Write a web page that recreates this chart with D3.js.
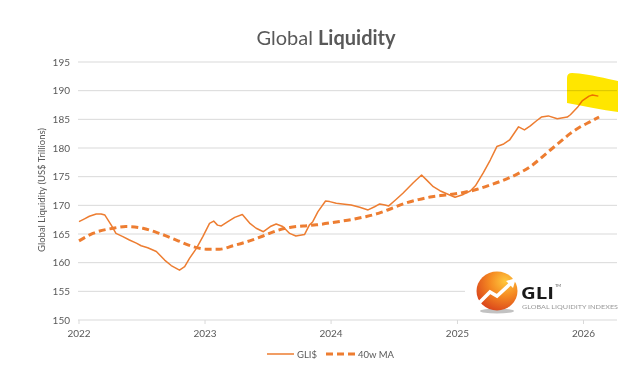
<!DOCTYPE html>
<html lang="en">
<head>
<meta charset="UTF-8">
<title>Global Liquidity</title>
<script src="https://d3js.org/d3.v7.min.js"></script>
<style>
  body { margin: 0; background: #fff; }
  svg { display: block; font-family: 'Lato', 'Open Sans', sans-serif; }
  .tickLabel { font-size: 10px; fill: #595959; }
  .legendLabel { font-size: 9.5px; fill: #595959; }
</style>
</head>
<body>
<svg width="638" height="387"></svg>
<script>
// GLI$ (US$ trillions)
const gliDates = ["2022-01-01","2022-01-17","2022-01-31","2022-02-20","2022-03-06","2022-03-17","2022-04-04","2022-04-18",
  "2022-05-08","2022-05-27","2022-06-16","2022-06-30","2022-07-19","2022-08-13","2022-09-06","2022-09-25","2022-10-19",
  "2022-11-03","2022-11-17","2022-12-07","2022-12-26","2023-01-14","2023-01-26","2023-02-06","2023-02-17","2023-03-08",
  "2023-03-28","2023-04-19","2023-05-10","2023-05-29","2023-06-19","2023-07-09","2023-07-26","2023-08-14","2023-09-03",
  "2023-09-21","2023-10-16","2023-10-30","2023-11-09","2023-11-24","2023-12-16","2023-12-28","2024-01-16","2024-02-09",
  "2024-02-28","2024-03-24","2024-04-17","2024-05-06","2024-05-21","2024-06-05","2024-06-16","2024-07-03","2024-07-27",
  "2024-08-26","2024-09-19","2024-10-04","2024-10-23","2024-11-11","2024-12-06","2024-12-25","2025-01-18","2025-02-07",
  "2025-02-22","2025-03-17","2025-04-06","2025-04-25","2025-05-15","2025-06-01","2025-06-27","2025-07-14","2025-07-31",
  "2025-08-18","2025-09-01","2025-09-21","2025-10-17","2025-11-15","2025-11-24","2025-12-14","2025-12-28","2026-01-17",
  "2026-01-27","2026-02-13"];
const gliValues = [167.15,167.65,168.1,168.5,168.5,168.3,166.6,165.1,
  164.55,163.95,163.4,162.95,162.6,161.95,160.45,159.5,158.7,
  159.3,160.75,162.5,164.6,166.85,167.25,166.55,166.4,167.15,
  167.9,168.4,166.9,166.0,165.4,166.3,166.75,166.3,165.1,
  164.65,164.9,166.55,167.15,168.9,170.75,170.65,170.35,170.2,
  170.05,169.65,169.2,169.75,170.25,170.05,169.9,170.8,172.1,
  173.95,175.3,174.4,173.25,172.55,171.9,171.4,171.9,172.5,
  173.4,175.7,177.9,180.25,180.7,181.4,183.7,183.15,183.85,
  184.75,185.4,185.6,185.1,185.4,185.8,187.05,188.2,189.05,
  189.25,189.05];

// 40-week moving average
const maDates = ["2022-01-01","2022-02-10","2022-04-09","2022-05-17","2022-07-05","2022-08-22","2022-10-10","2022-11-27",
  "2023-01-05","2023-02-12","2023-03-23","2023-05-10","2023-06-18","2023-07-26","2023-09-03","2023-10-12","2023-11-20",
  "2024-01-21","2024-02-28","2024-04-08","2024-05-17","2024-06-24","2024-08-02","2024-09-10","2024-10-19","2024-11-27",
  "2025-01-04","2025-02-27","2025-04-06","2025-05-15","2025-06-23","2025-07-31","2025-08-29","2025-09-27","2025-10-26",
  "2025-11-24","2025-12-23","2026-01-21","2026-02-15"];
const maValues = [163.8,165.1,166.0,166.3,166.0,165.1,163.95,162.8,
  162.35,162.35,162.95,163.8,164.65,165.55,166.15,166.4,166.6,
  167.15,167.5,168.0,168.6,169.45,170.35,171.0,171.5,171.8,
  172.1,172.8,173.55,174.4,175.45,176.75,178.15,179.65,181.1,
  182.55,183.7,184.6,185.4];

const yTicks = [150, 155, 160, 165, 170, 175, 180, 185, 190, 195];
const xTickYears = ["2022", "2023", "2024", "2025", "2026"];
const seriesNames = ["GLI$", "40w MA"];

const orange = "#ED7D31";
const parse = d3.timeParse("%Y-%m-%d");
const gli = gliDates.map((d, i) => ({ date: parse(d), value: gliValues[i] }));
const ma = maDates.map((d, i) => ({ date: parse(d), value: maValues[i] }));

const svg = d3.select("svg");

const x = d3.scaleTime()
  .domain([parse("2022-01-01"), parse("2026-04-08")])
  .range([79, 617]);
const y = d3.scaleLinear()
  .domain([150, 195])
  .range([320, 62]);

// title
const title = svg.append("text")
  .attr("x", 326).attr("y", 45)
  .attr("text-anchor", "middle")
  .style("font-size", "20px")
  .style("fill", "#595959");
title.append("tspan").text("Global ");
title.append("tspan").style("font-weight", "bold").text("Liquidity");

// gridlines
svg.append("g")
  .selectAll("line")
  .data(yTicks)
  .enter().append("line")
  .attr("x1", 78).attr("x2", 617)
  .attr("y1", d => y(d)).attr("y2", d => y(d))
  .attr("stroke", "#d9d9d9")
  .attr("stroke-width", 1);

// y tick labels
svg.append("g")
  .selectAll("text")
  .data(yTicks)
  .enter().append("text")
  .attr("class", "tickLabel")
  .attr("x", 70)
  .attr("y", d => y(d) + 3.5)
  .attr("text-anchor", "end")
  .text(d => d);

// x axis ticks + labels
const xg = svg.append("g");
xTickYears.forEach(yr => {
  const px = x(parse(yr + "-01-01"));
  xg.append("line")
    .attr("x1", px).attr("x2", px)
    .attr("y1", y(150)).attr("y2", y(150) + 4)
    .attr("stroke", "#d9d9d9");
  xg.append("text")
    .attr("class", "tickLabel")
    .attr("x", px).attr("y", 337)
    .attr("text-anchor", "middle")
    .text(yr);
});

// y axis title
svg.append("text")
  .attr("transform", "translate(45,190) rotate(-90)")
  .attr("text-anchor", "middle")
  .style("font-size", "9.5px")
  .style("fill", "#595959")
  .text("Global Liquidity (US$ Trillions)");

// logo (white backing box hides part of the 155 gridline)
const logo = svg.append("g");
logo.append("rect")
  .attr("x", 465).attr("y", 268).attr("width", 155).attr("height", 47)
  .attr("fill", "#fff");

const defs = svg.append("defs");
const grad = defs.append("radialGradient")
  .attr("id", "ball")
  .attr("cx", "70%").attr("cy", "25%").attr("r", "85%");
grad.append("stop").attr("offset", "0%").attr("stop-color", "#FFC83D");
grad.append("stop").attr("offset", "45%").attr("stop-color", "#F58A22");
grad.append("stop").attr("offset", "100%").attr("stop-color", "#D8401B");

logo.append("ellipse")
  .attr("cx", 497).attr("cy", 311).attr("rx", 17).attr("ry", 2.5)
  .attr("fill", "#9a9a9a").attr("opacity", 0.6);
logo.append("ellipse")
  .attr("cx", 497).attr("cy", 291).attr("rx", 20.5).attr("ry", 19.5)
  .attr("fill", "url(#ball)");
logo.append("polyline")
  .attr("points", "476,306 490,292 497,296 510,284")
  .attr("fill", "none")
  .attr("stroke", "#fff")
  .attr("stroke-width", 3.5)
  .attr("stroke-linejoin", "miter");
logo.append("polygon")
  .attr("points", "506,281 516,278 513,288")
  .attr("fill", "#fff");
logo.append("text")
  .attr("x", 521).attr("y", 299)
  .attr("textLength", 33)
  .attr("lengthAdjust", "spacingAndGlyphs")
  .style("font-family", "'Open Sans', sans-serif")
  .style("font-size", "16px")
  .style("font-weight", "bold")
  .style("fill", "#1a1a1a")
  .text("GLI");
logo.append("text")
  .attr("x", 555).attr("y", 287)
  .style("font-size", "4px")
  .style("fill", "#555")
  .text("TM");
logo.append("text")
  .attr("x", 522).attr("y", 309)
  .attr("textLength", 96)
  .attr("lengthAdjust", "spacingAndGlyphs")
  .style("font-size", "6px")
  .style("fill", "#9a9a9a")
  .text("GLOBAL LIQUIDITY INDEXES");

// series
const maLine = d3.line()
  .x(d => x(d.date))
  .y(d => y(d.value))
  .curve(d3.curveMonotoneX);
const gliLine = d3.line()
  .x(d => x(d.date))
  .y(d => y(d.value));

svg.append("path")
  .datum(ma)
  .attr("d", maLine)
  .attr("fill", "none")
  .attr("stroke", orange)
  .attr("stroke-width", 3)
  .attr("stroke-dasharray", "7,4");

svg.append("path")
  .datum(gli)
  .attr("d", gliLine)
  .attr("fill", "none")
  .attr("stroke", orange)
  .attr("stroke-width", 1.5)
  .attr("stroke-linejoin", "round");

// highlighter mark
svg.append("path")
  .attr("d", "M572,73 C592,74 606,79 618,81 L618,112 C602,110 585,106 567,103 L567,78 Q567,73 572,73 Z")
  .attr("fill", "#FFE600")
  .style("mix-blend-mode", "multiply");

// legend
const legend = svg.append("g");
legend.append("line")
  .attr("x1", 267).attr("x2", 294).attr("y1", 354).attr("y2", 354)
  .attr("stroke", orange).attr("stroke-width", 1.5);
legend.append("text")
  .attr("class", "legendLabel")
  .attr("x", 297).attr("y", 357.5)
  .text(seriesNames[0]);
legend.append("line")
  .attr("x1", 326).attr("x2", 355).attr("y1", 354).attr("y2", 354)
  .attr("stroke", orange).attr("stroke-width", 3)
  .attr("stroke-dasharray", "7,4");
legend.append("text")
  .attr("class", "legendLabel")
  .attr("x", 358).attr("y", 357.5)
  .text(seriesNames[1]);
</script>
</body>
</html>
